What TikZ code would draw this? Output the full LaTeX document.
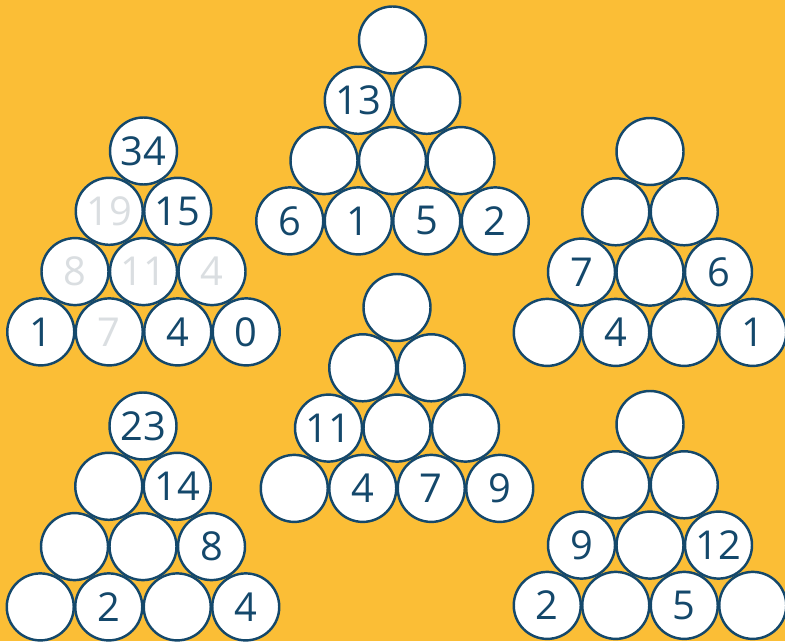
\documentclass[tikz,border=0pt]{standalone}
\usepackage{fontspec}
\setmainfont{Open Sans}
\definecolor{bg}{HTML}{FBBE36}
\definecolor{ink}{HTML}{14486B}
\definecolor{ghostgray}{HTML}{DADEE1}
\newcommand\ghost[1]{\textcolor{ghostgray}{#1}}

\begin{document}
\begin{tikzpicture}[x=0.03cm,y=0.03cm,
    ball/.style={circle,draw=ink,fill=white,line width=2.1pt,minimum size=2.01cm,inner sep=0pt,
        text=ink,font=\fontsize{34}{34}\selectfont}]
        \useasboundingbox (0,0) rectangle (785,641);
        \clip (0,0) rectangle (785,641);
        \fill[bg] (0,0) rectangle (785,641);

        % 1. Left pyramid, top 34 (grey numbers are the worked ones)
        \foreach \r/\c/\t in {1/1/34, 2/1/{\ghost{19}}, 2/2/15, 3/1/{\ghost{8}}, 3/2/{\ghost{11}}, 3/3/{\ghost{4}},
                              4/1/1, 4/2/{\ghost{7}}, 4/3/4, 4/4/0}
            \node[ball] (a-\r-\c) at ({143.5+(\c-1)*68.5-(\r-1)*34.25},{490-(\r-1)*60.3}) {\t};

        % 2. Top middle pyramid
        \foreach \r/\c/\t in {1/1/{}, 2/1/13, 2/2/{}, 3/1/{}, 3/2/{}, 3/3/{},
                              4/1/6, 4/2/1, 4/3/5, 4/4/2}
            \node[ball] (b-\r-\c) at ({392.5+(\c-1)*68.5-(\r-1)*34.25},{601-(\r-1)*60.3}) {\t};

        % 3. Right pyramid
        \foreach \r/\c/\t in {1/1/{}, 2/1/{}, 2/2/{}, 3/1/7, 3/2/{}, 3/3/6,
                              4/1/{}, 4/2/4, 4/3/{}, 4/4/1}
            \node[ball] (c-\r-\c) at ({650+(\c-1)*68.5-(\r-1)*34.25},{489.5-(\r-1)*60.3}) {\t};

        % 4. Bottom left pyramid
        \foreach \r/\c/\t in {1/1/23, 2/1/{}, 2/2/14, 3/1/{}, 3/2/{}, 3/3/8,
                              4/1/{}, 4/2/2, 4/3/{}, 4/4/4}
            \node[ball] (d-\r-\c) at ({143+(\c-1)*68.5-(\r-1)*34.25},{215-(\r-1)*60.3}) {\t};

        % 5. Centre pyramid
        \foreach \r/\c/\t in {1/1/{}, 2/1/{}, 2/2/{}, 3/1/11, 3/2/{}, 3/3/{},
                              4/1/{}, 4/2/4, 4/3/7, 4/4/9}
            \node[ball] (e-\r-\c) at ({397+(\c-1)*68.5-(\r-1)*34.25},{333.5-(\r-1)*60.3}) {\t};

        % 6. Bottom right pyramid
        \foreach \r/\c/\t in {1/1/{}, 2/1/{}, 2/2/{}, 3/1/9, 3/2/{}, 3/3/12,
                              4/1/2, 4/2/{}, 4/3/5, 4/4/{}}
            \node[ball] (f-\r-\c) at ({650+(\c-1)*68.5-(\r-1)*34.25},{216.5-(\r-1)*60.3}) {\t};

    \end{tikzpicture}
\end{document}
